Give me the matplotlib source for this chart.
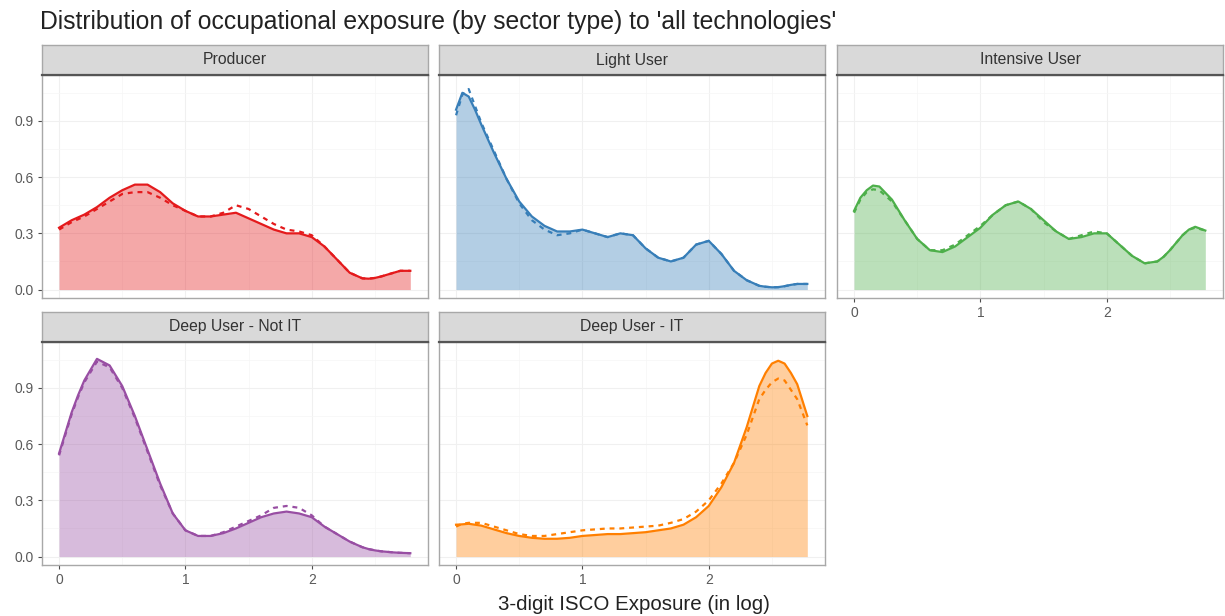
import matplotlib
matplotlib.use("Agg")
import matplotlib.pyplot as plt
from matplotlib.ticker import MultipleLocator

plt.rcParams["font.family"] = ["Liberation Sans", "DejaVu Sans"]

# log exposure grid on which both density curves were read (denser near the peaks)
X = [0.0, 0.05, 0.1, 0.15, 0.2, 0.3, 0.4, 0.5, 0.6, 0.7, 0.8, 0.9, 1.0, 1.1, 1.2, 1.3, 1.4,
     1.5, 1.6, 1.7, 1.8, 1.9, 2.0, 2.1, 2.2, 2.3, 2.4, 2.45, 2.5, 2.55, 2.6, 2.65, 2.7, 2.78]

SECTORS = ["Producer", "Light User", "Intensive User", "Deep User - Not IT", "Deep User - IT"]
COLORS = ["#E41A1C", "#377EB8", "#4DAF4A", "#984EA3", "#FF7F00"]

producer = [0.33, 0.35, 0.37, 0.385, 0.40, 0.44, 0.49, 0.53, 0.56, 0.56, 0.52, 0.46, 0.42, 0.39, 0.39, 0.40, 0.41,
            0.38, 0.35, 0.32, 0.30, 0.30, 0.28, 0.23, 0.16, 0.09, 0.06, 0.058, 0.062, 0.07, 0.08, 0.09, 0.10, 0.10]
producer_alt = [0.32, 0.34, 0.36, 0.375, 0.39, 0.43, 0.47, 0.51, 0.52, 0.52, 0.49, 0.45, 0.42, 0.39, 0.39, 0.41, 0.45,
                0.43, 0.39, 0.35, 0.32, 0.31, 0.29, 0.23, 0.16, 0.09, 0.06, 0.058, 0.062, 0.07, 0.08, 0.09, 0.10, 0.10]

light = [0.96, 1.05, 1.03, 0.96, 0.88, 0.73, 0.59, 0.47, 0.39, 0.34, 0.31, 0.31, 0.32, 0.30, 0.28, 0.30, 0.29,
         0.22, 0.17, 0.15, 0.17, 0.24, 0.26, 0.19, 0.10, 0.05, 0.02, 0.015, 0.012, 0.013, 0.018, 0.025, 0.03, 0.03]
light_alt = [0.93, 1.04, 1.07, 0.98, 0.89, 0.74, 0.59, 0.46, 0.37, 0.32, 0.29, 0.30, 0.32, 0.30, 0.28, 0.30, 0.29,
             0.22, 0.17, 0.15, 0.17, 0.24, 0.26, 0.19, 0.10, 0.05, 0.02, 0.015, 0.012, 0.013, 0.018, 0.025, 0.03, 0.03]

intensive = [0.42, 0.49, 0.53, 0.555, 0.55, 0.48, 0.37, 0.27, 0.21, 0.20, 0.23, 0.28, 0.33, 0.40, 0.45, 0.47, 0.43,
             0.37, 0.31, 0.27, 0.28, 0.30, 0.30, 0.24, 0.18, 0.14, 0.15, 0.175, 0.21, 0.25, 0.29, 0.32, 0.335, 0.315]
intensive_alt = [0.41, 0.48, 0.52, 0.535, 0.53, 0.47, 0.37, 0.27, 0.21, 0.21, 0.24, 0.29, 0.34, 0.40, 0.45, 0.47, 0.43,
                 0.36, 0.31, 0.27, 0.29, 0.31, 0.30, 0.24, 0.18, 0.14, 0.15, 0.175, 0.21, 0.25, 0.29, 0.32, 0.33, 0.315]

deep_not_it = [0.55, 0.66, 0.77, 0.86, 0.94, 1.055, 1.02, 0.91, 0.75, 0.57, 0.39, 0.23, 0.14, 0.11, 0.11, 0.125, 0.15,
               0.18, 0.21, 0.23, 0.24, 0.23, 0.21, 0.16, 0.12, 0.08, 0.05, 0.04, 0.033, 0.028, 0.025, 0.022, 0.02, 0.018]
deep_not_it_alt = [0.54, 0.65, 0.76, 0.85, 0.93, 1.04, 1.01, 0.90, 0.74, 0.56, 0.38, 0.23, 0.14, 0.11, 0.11, 0.13, 0.16,
                   0.19, 0.22, 0.26, 0.27, 0.26, 0.22, 0.16, 0.12, 0.08, 0.05, 0.04, 0.033, 0.028, 0.025, 0.022, 0.02, 0.018]

deep_it = [0.17, 0.172, 0.175, 0.17, 0.165, 0.145, 0.125, 0.11, 0.10, 0.095, 0.095, 0.10, 0.11, 0.115, 0.12, 0.12, 0.125,
           0.13, 0.14, 0.15, 0.17, 0.21, 0.27, 0.37, 0.50, 0.69, 0.91, 0.98, 1.03, 1.045, 1.03, 0.98, 0.92, 0.75]
deep_it_alt = [0.16, 0.175, 0.18, 0.18, 0.18, 0.16, 0.14, 0.12, 0.11, 0.11, 0.12, 0.13, 0.14, 0.145, 0.15, 0.15, 0.155,
               0.16, 0.165, 0.18, 0.20, 0.24, 0.30, 0.39, 0.50, 0.65, 0.84, 0.89, 0.93, 0.95, 0.94, 0.89, 0.84, 0.70]

SOLID = [producer, light, intensive, deep_not_it, deep_it]
DASHED = [producer_alt, light_alt, intensive_alt, deep_not_it_alt, deep_it_alt]

W, H = 1225, 616
fig = plt.figure(figsize=(W / 100, H / 100), dpi=100)

# panel boxes in pixels: (left, top) of the plotting area
col_left = [42, 439, 837]
row_top = [75, 342]
pw, ph, sh = 386, 223, 30
slots = [(0, 0), (0, 1), (0, 2), (1, 0), (1, 1)]


def px_box(left, top, w, h):
    return [left / W, 1 - (top + h) / H, w / W, h / H]


for i, (r, c) in enumerate(slots):
    ax = fig.add_axes(px_box(col_left[c], row_top[r], pw, ph))
    color = COLORS[i]
    ax.fill_between(X, 0, SOLID[i], color=color, alpha=0.38, linewidth=0, zorder=2)
    ax.plot(X, SOLID[i], color=color, lw=1.6, zorder=3, solid_joinstyle="round")
    ax.plot(X, DASHED[i], color=color, lw=1.6, ls=(0, (2.2, 2.2)), zorder=3)

    ax.set_xlim(-0.135, 2.92)
    ax.set_ylim(-0.045, 1.145)
    ax.xaxis.set_major_locator(MultipleLocator(1))
    ax.xaxis.set_minor_locator(MultipleLocator(0.5))
    ax.yaxis.set_major_locator(MultipleLocator(0.3))
    ax.yaxis.set_minor_locator(MultipleLocator(0.15))
    ax.grid(which="major", color="#F0F0F0", lw=0.8, zorder=0)
    ax.grid(which="minor", color="#F6F6F6", lw=0.5, zorder=0)
    ax.set_axisbelow(True)
    for s in ax.spines.values():
        s.set_color("#A8A8A8")
        s.set_linewidth(1.0)
    ax.tick_params(which="minor", length=0)
    ax.tick_params(which="major", length=3, color="#4D4D4D", labelcolor="#5A5A5A",
                   labelsize=10, pad=3)
    ax.set_yticks([0, 0.3, 0.6, 0.9])
    ax.yaxis.set_major_formatter(plt.FuncFormatter(lambda v, p: f"{v:.1f}"))
    if c != 0:
        ax.tick_params(axis="y", left=False, labelleft=False)
    if not (r == 1 or c == 2):
        ax.tick_params(axis="x", bottom=False, labelbottom=False)

    strip = fig.add_axes(px_box(col_left[c], row_top[r] - sh, pw, sh))
    strip.set_facecolor("#D9D9D9")
    strip.set_xticks([])
    strip.set_yticks([])
    for s in strip.spines.values():
        s.set_color("#A8A8A8")
        s.set_linewidth(1.0)
    strip.spines["bottom"].set_color("#555555")
    strip.spines["bottom"].set_linewidth(1.6)
    strip.text(0.5, 0.5, SECTORS[i], ha="center", va="center", fontsize=11.3,
               color="#333333", transform=strip.transAxes)

fig.text(40 / W, 1 - 22 / H, "Distribution of occupational exposure (by sector type) to 'all technologies'",
         ha="left", va="center", fontsize=17.8, color="#222222")
fig.text(634 / W, 1 - 604 / H, "3-digit ISCO Exposure (in log)", ha="center", va="center",
         fontsize=14.8, color="#222222")

fig.savefig("out.png", dpi=100)
